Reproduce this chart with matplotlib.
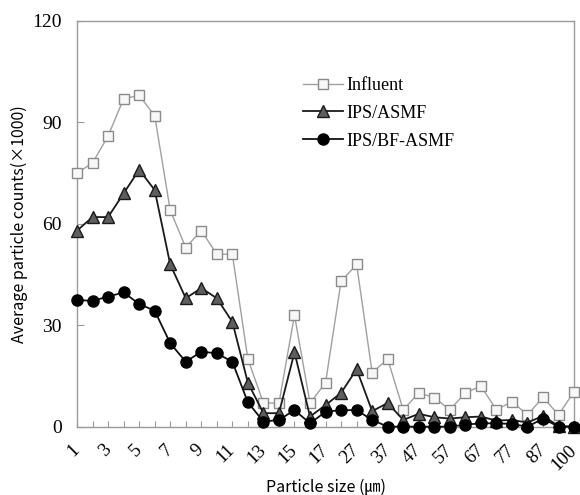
import matplotlib
matplotlib.use("Agg")
import matplotlib.pyplot as plt
import numpy as np

# particle size classes (um)
sizes = [1, 2, 3, 4, 5, 6, 7, 8, 9, 10, 11, 12, 13, 14, 15, 16, 17,
         22, 27, 32, 37, 42, 47, 52, 57, 62, 67, 72, 77, 82, 87, 92, 100]

influent = [75, 78, 86, 97, 98, 92, 64, 53, 58, 51, 51, 20, 7, 7, 33, 7, 13,
            43, 48, 16, 20, 5, 10, 8.6, 5, 10, 12, 5, 7.4, 3.5, 8.7, 3.5, 10.4]
ips_asmf = [58, 62, 62, 69, 76, 70, 48, 38, 41, 38, 31, 13, 4, 4, 22, 3, 6.4,
            10, 17, 4.6, 7, 2, 3.8, 2.8, 2.4, 2.8, 3, 1.8, 2, 1.2, 3.2, 0.2, 0]
ips_bf_asmf = [37.5, 37.2, 38.5, 39.7, 36.3, 34.3, 24.7, 19.2, 22.2, 21.7, 19.2, 7.2, 1.5, 2, 4.9, 1, 4.4,
               4.9, 4.9, 2, 0, 0, 0, 0, 0, 0.6, 1, 1, 0.8, 0, 2.4, 0, 0]

x = np.arange(len(sizes))
labels = [str(s) if i % 2 == 0 else "" for i, s in enumerate(sizes)]

plt.rcParams['font.family'] = ['Liberation Serif', 'DejaVu Serif']

fig = plt.figure(figsize=(5.8, 4.95), dpi=100)
ax = fig.add_axes([0.1328, 0.138, 0.857, 0.8196])

ax.plot(x, influent, color='#a0a0a0', lw=1.0, marker='s', ms=7.5,
        mfc='#f7f7f7', mec='#8a8a8a', mew=1.0, label='Influent', clip_on=False, zorder=3)
ax.plot(x, ips_asmf, color='#1a1a1a', lw=1.3, marker='^', ms=8,
        mfc='#5e5e5e', mec='#1a1a1a', mew=1.0, label='IPS/ASMF', clip_on=False, zorder=4)
ax.plot(x, ips_bf_asmf, color='#111111', lw=1.3, marker='o', ms=8,
        mfc='#000000', mec='#000000', label='IPS/BF-ASMF', clip_on=False, zorder=5)

ax.set_xlim(0, len(sizes) - 1)
ax.set_ylim(0, 120)
ax.set_yticks([0, 30, 60, 90, 120])
ax.set_xticks(x)
ax.set_xticklabels(labels, rotation=45, ha='right', va='center', rotation_mode='anchor')

for s in ax.spines.values():
    s.set_color('#9a9a9a')
    s.set_linewidth(1.0)

ax.tick_params(axis='x', direction='in', length=4, color='#9a9a9a', labelsize=13.5, pad=15)
ax.tick_params(axis='y', direction='in', length=5, color='#9a9a9a', labelsize=14, pad=11)

ax.set_xlabel('Particle size (㎛)', family=['Noto Sans CJK KR', 'DejaVu Sans'], fontsize=11.5, labelpad=4)
ax.set_ylabel('Average particle counts(×1000)', family=['Noto Sans CJK KR', 'DejaVu Sans'], fontsize=11.5, labelpad=3)

ax.legend(loc='upper left', bbox_to_anchor=(0.44, 0.88), frameon=False, fontsize=13,
          handlelength=2.2, handletextpad=0.2, labelspacing=0.6, borderaxespad=0)

fig.savefig('out.png', dpi=100)
